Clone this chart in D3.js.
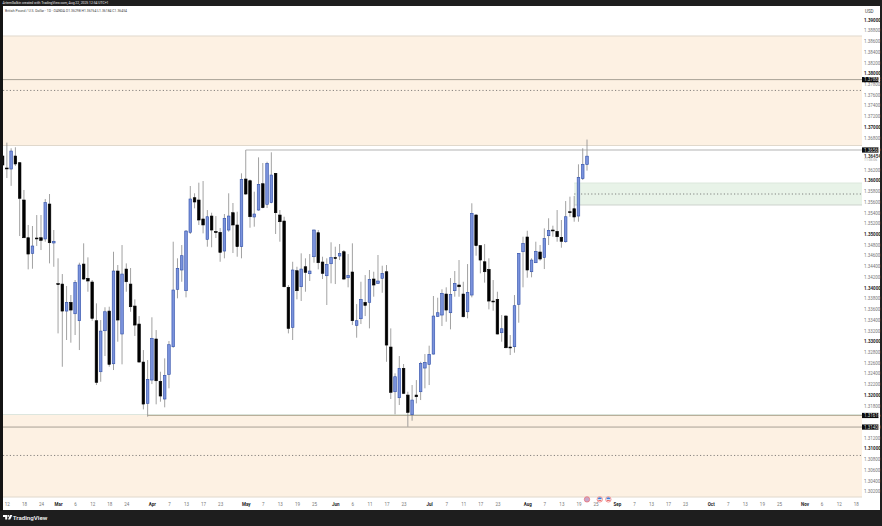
<!DOCTYPE html>
<html><head><meta charset="utf-8">
<script src="https://cdn.jsdelivr.net/npm/d3@7/dist/d3.min.js"></script>
<style>html,body{margin:0;padding:0;background:#1e1e1e;overflow:hidden}svg{display:block}text{font-family:Roboto,"Liberation Sans",sans-serif}</style>
</head><body><svg id="c" width="882" height="526"></svg>
<script>
const opens=[1.36457,1.36233,1.36214,1.36457,1.36332,1.35636,1.34932,1.34641,1.34927,1.34932,1.34909,1.35561,1.34834,1.34076,1.34068,1.33564,1.33727,1.33514,1.33384,1.34441,1.34175,1.34106,1.33384,1.32432,1.33197,1.33564,1.32581,1.34311,1.33136,1.34348,1.34068,1.33658,1.33322,1.32613,1.31842,1.32277,1.33043,1.32253,1.31923,1.32384,1.32899,1.33970,1.34330,1.33944,1.35033,1.35679,1.35636,1.35282,1.34903,1.35337,1.35048,1.35033,1.34684,1.35076,1.35399,1.35170,1.34765,1.36028,1.35996,1.35319,1.35449,1.35940,1.35556,1.35586,1.36134,1.35356,1.35244,1.34007,1.33261,1.34317,1.34018,1.34391,1.34261,1.34578,1.35026,1.34479,1.34223,1.34447,1.34563,1.34591,1.34671,1.34186,1.34293,1.33298,1.33421,1.33727,1.33727,1.34162,1.34081,1.34175,1.34298,1.32893,1.32059,1.31947,1.32496,1.31997,1.31630,1.31997,1.32059,1.32501,1.32570,1.32762,1.33465,1.33490,1.33882,1.33533,1.33944,1.34050,1.33882,1.33551,1.33863,1.35356,1.34784,1.34484,1.34342,1.33751,1.33783,1.33160,1.33471,1.32893,1.32899,1.33690,1.34671,1.34946,1.34298,1.34466,1.34666,1.34560,1.34970,1.35076,1.35052,1.34940,1.34858,1.35417,1.35473,1.35337,1.36034,1.36298];
const highs=[1.36606,1.36706,1.36601,1.36620,1.36345,1.35823,1.35170,1.35151,1.35356,1.35356,1.35655,1.35748,1.35076,1.34548,1.34255,1.34031,1.33863,1.34143,1.34466,1.34828,1.34566,1.34143,1.33708,1.33397,1.33635,1.33645,1.34671,1.34423,1.34796,1.34454,1.34367,1.33783,1.33471,1.32837,1.32650,1.33448,1.33210,1.32432,1.32682,1.33005,1.34858,1.34548,1.34796,1.35076,1.35897,1.35761,1.35959,1.35990,1.35449,1.35399,1.35337,1.35113,1.35375,1.35761,1.35580,1.35417,1.36134,1.36569,1.36018,1.35791,1.36432,1.36326,1.36350,1.36526,1.36140,1.35449,1.35324,1.34049,1.34484,1.34391,1.34641,1.34548,1.34628,1.35086,1.35076,1.34578,1.34548,1.34847,1.34765,1.34815,1.34703,1.34628,1.34828,1.33695,1.34111,1.34236,1.34330,1.34298,1.34610,1.34410,1.34423,1.33241,1.32402,1.32725,1.32576,1.32059,1.32184,1.32277,1.32618,1.32762,1.32918,1.33845,1.33813,1.33970,1.34007,1.34180,1.34311,1.34516,1.34111,1.34441,1.35575,1.35375,1.34796,1.34815,1.34548,1.34143,1.33925,1.33490,1.33490,1.33117,1.33863,1.34647,1.34951,1.35063,1.34548,1.34858,1.34796,1.35107,1.35295,1.35157,1.35449,1.35263,1.35617,1.35698,1.35711,1.36302,1.36601,1.36764];
const lows=[1.36196,1.36046,1.35900,1.36270,1.34964,1.34927,1.34342,1.34354,1.34778,1.34703,1.34858,1.34454,1.34391,1.33148,1.32525,1.33024,1.32974,1.33117,1.32837,1.34143,1.33925,1.33384,1.32184,1.32245,1.32725,1.32525,1.32464,1.32992,1.32570,1.33925,1.33551,1.33099,1.32604,1.31730,1.31594,1.32202,1.31824,1.31873,1.31768,1.32123,1.32880,1.33802,1.34111,1.33820,1.35002,1.35481,1.35170,1.35014,1.34765,1.34754,1.34927,1.34484,1.34548,1.35044,1.34647,1.34578,1.34548,1.35729,1.35119,1.35138,1.35436,1.35481,1.35487,1.35575,1.35002,1.34858,1.34007,1.33148,1.33024,1.33783,1.33752,1.33925,1.34125,1.34466,1.34342,1.34162,1.33677,1.34081,1.34068,1.34516,1.34143,1.34007,1.33303,1.33067,1.33322,1.33471,1.33241,1.33832,1.34068,1.33906,1.32618,1.31923,1.31637,1.31811,1.32016,1.31406,1.31518,1.31842,1.31904,1.32123,1.32184,1.32753,1.33458,1.33285,1.33365,1.33223,1.33832,1.33832,1.33447,1.33429,1.33820,1.34597,1.34268,1.34094,1.33596,1.33570,1.33127,1.32992,1.32869,1.32744,1.32787,1.33347,1.34007,1.34186,1.34194,1.34460,1.34503,1.34348,1.34796,1.34951,1.34858,1.34746,1.34839,1.35324,1.35231,1.35231,1.36009,1.36184];
const closes=[1.36289,1.36220,1.36550,1.36308,1.35668,1.34932,1.34628,1.34778,1.34916,1.34884,1.35586,1.34839,1.34866,1.34057,1.33564,1.33727,1.33583,1.34100,1.34423,1.34162,1.34125,1.33429,1.32234,1.33191,1.33551,1.32570,1.34311,1.33397,1.34255,1.34111,1.33645,1.33303,1.32613,1.31829,1.32290,1.33056,1.32264,1.31979,1.32365,1.32936,1.33957,1.34362,1.34597,1.35057,1.35655,1.35599,1.35263,1.35170,1.35324,1.35076,1.35029,1.34660,1.35295,1.35337,1.35170,1.34765,1.36022,1.35748,1.35324,1.35375,1.35929,1.35493,1.36320,1.36102,1.35399,1.35231,1.34018,1.33241,1.34330,1.33944,1.34348,1.34287,1.34311,1.35076,1.34466,1.34268,1.34436,1.34560,1.34544,1.34641,1.34162,1.34231,1.33384,1.33384,1.33783,1.33671,1.34156,1.34050,1.34125,1.34268,1.32930,1.32048,1.32339,1.32496,1.32029,1.31674,1.31904,1.31966,1.32588,1.32607,1.32757,1.33471,1.33533,1.33895,1.33583,1.33876,1.34081,1.34018,1.33458,1.33914,1.35388,1.34784,1.34516,1.34298,1.33751,1.33738,1.33136,1.33234,1.32880,1.32880,1.33664,1.34641,1.34828,1.34330,1.34516,1.34679,1.34535,1.34921,1.35070,1.35063,1.34951,1.34866,1.35324,1.35406,1.35319,1.36059,1.36302,1.36454];

const priceTicks=[1.39,1.388,1.386,1.384,1.382,1.38,1.378,1.376,1.374,1.372,1.37,1.368,1.362,1.36,1.358,1.356,1.354,1.352,1.35,1.348,1.346,1.344,1.342,1.34,1.338,1.336,1.334,1.332,1.33,1.328,1.326,1.324,1.322,1.32,1.318,1.312,1.31,1.308,1.306,1.304,1.302];
const dateTickBars=[1,5,9,13,17,21,25,29,35,39,43,47,51,57,61,65,69,73,78,82,86,90,94,100,104,108,112,116,123,127,131,135,139,144,148,152,156,160,166,170,174,178,182,188,192,196,200];
const dateTickLabels=["12","18","24","Mar","6","12","18","24","Apr","7","13","17","23","May","7","13","19","25","Jun","6","11","17","23","Jul","7","11","17","23","Aug","7","13","19","25","Sep","7","13","17","23","Oct","7","13","19","25","Nov","6","12","18"];
const monthLabels=["Mar","Apr","May","Jun","Jul","Aug","Sep","Oct","Nov"];

const orangeZones=[[1.38696,1.36653],[1.31634,1.30095]];
const greenZone=[1.35953,1.35543];
const greenStartBar=134;
const solidLevels=[1.37882,1.31400];
const dottedLevels=[1.37680,1.30870];
const highLevel=[57,1.36569];
const lowLevel=[34,1.31616];
const greenMid=1.35748;
const priceTags=[1.37882,1.36569,1.31616,1.31400];
const eventBars=[137,140,142];

const svg=d3.select("#c");
const L=3,R=880,T=6,B=510,PR=862;
svg.append("rect").attr("width",882).attr("height",526).attr("fill","#1e1e1e");
svg.append("rect").attr("x",0).attr("y",0).attr("width",3).attr("height",511).attr("fill","#141414");
svg.append("rect").attr("x",L).attr("y",T).attr("width",R-L).attr("height",B-T).attr("fill","#fff");

const x=d3.scaleLinear().domain([0,137]).range([2.6,587]);
const y=d3.scaleLinear().domain([1.39,1.31]).range([19.7,448.5]);

svg.append("defs").append("clipPath").attr("id","pc").append("rect").attr("x",L).attr("y",T).attr("width",PR-L).attr("height",B-T);
const g=svg.append("g").attr("clip-path","url(#pc)");

// zones
g.selectAll("rect.z").data(orangeZones).join("rect").attr("class","z")
 .attr("x",L).attr("width",PR-L).attr("y",d=>y(d[0])).attr("height",d=>y(d[1])-y(d[0])).attr("fill","#fdf1e3");
orangeZones.forEach(d=>d.forEach((p,i)=>{
  g.append("line").attr("x1",L).attr("x2",PR).attr("y1",y(p)).attr("y2",y(p)).attr("stroke",d===orangeZones[1]&&i===0?"#dde6de":"#e0d8cc").attr("stroke-width",1);
}));
const gx=x(greenStartBar);
g.append("rect").attr("x",gx).attr("width",PR-gx).attr("y",y(greenZone[0])).attr("height",y(greenZone[1])-y(greenZone[0])).attr("fill","#e8f3e8");
g.append("line").attr("x1",gx).attr("x2",PR).attr("y1",y(greenZone[0])).attr("y2",y(greenZone[0])).attr("stroke","#dce8dc");
g.append("line").attr("x1",gx).attr("x2",PR).attr("y1",y(greenZone[1])).attr("y2",y(greenZone[1])).attr("stroke","#ccd2cc");
g.append("line").attr("x1",gx).attr("x2",PR).attr("y1",y(greenMid)).attr("y2",y(greenMid)).attr("stroke","#555").attr("stroke-width",.7).attr("stroke-dasharray","1.2,2.2");

// levels
solidLevels.forEach(p=>{
  g.append("line").attr("x1",L).attr("x2",PR).attr("y1",y(p)).attr("y2",y(p)).attr("stroke","#a8a196").attr("stroke-width",1);
});
dottedLevels.forEach(p=>{
  g.append("line").attr("x1",L).attr("x2",PR).attr("y1",y(p)).attr("y2",y(p)).attr("stroke","#555").attr("stroke-width",.7).attr("stroke-dasharray","1.2,2.2");
});
g.append("line").attr("x1",x(highLevel[0])).attr("x2",PR).attr("y1",y(highLevel[1])).attr("y2",y(highLevel[1])).attr("stroke","#b4b4b4").attr("stroke-width",1.1);
g.append("line").attr("x1",x(lowLevel[0])).attr("x2",PR).attr("y1",y(lowLevel[1])).attr("y2",y(lowLevel[1])).attr("stroke","#b8ad98").attr("stroke-width",1);

// candles
const idx=d3.range(opens.length);
g.selectAll("line.w").data(idx).join("line").attr("class","w")
 .attr("x1",i=>x(i)).attr("x2",i=>x(i)).attr("y1",i=>y(highs[i])).attr("y2",i=>y(lows[i]))
 .attr("stroke","#8a8a8a").attr("stroke-width",.8);
g.selectAll("rect.b").data(idx).join("rect").attr("class","b")
 .attr("x",i=>x(i)-1.3).attr("width",2.6)
 .attr("y",i=>y(Math.max(opens[i],closes[i])))
 .attr("height",i=>Math.max(.9,Math.abs(y(opens[i])-y(closes[i]))))
 .attr("fill",i=>closes[i]>opens[i]?"#7a92dc":"#000")
 .attr("stroke",i=>closes[i]>opens[i]?"#2f4fa8":"#000")
 .attr("stroke-width",.6);

// price axis
const ya=d3.axisRight(y).tickValues(priceTicks).tickSize(0).tickPadding(0).tickFormat(d=>d.toFixed(5));
const yg=svg.append("g").attr("transform",`translate(${PR+2},0)`).call(ya);
yg.select(".domain").remove();
yg.selectAll("text").attr("font-size",4.5).attr("fill",d=>Math.abs(d*100-Math.round(d*100))<1e-6?"#222":"#777")
 .attr("font-weight",d=>Math.abs(d*100-Math.round(d*100))<1e-6?700:400);
svg.append("text").attr("x",PR+3).attr("y",13).attr("font-size",4.5).attr("fill","#444").text("USD");
priceTags.forEach(p=>{
  svg.append("rect").attr("x",PR).attr("y",y(p)-2.6).attr("width",16.5).attr("height",5.2).attr("fill","#0c0c0c");
  svg.append("text").attr("x",PR+2).attr("y",y(p)+1.6).attr("font-size",4.5).attr("fill","#ddd").text(p.toFixed(5));
});
svg.append("text").attr("x",PR+2).attr("y",y(closes[137])+1.6).attr("font-size",4.5).attr("font-weight",700).attr("fill","#333").text(closes[137].toFixed(5));
svg.append("text").attr("x",PR+2).attr("y",y(closes[137])+4.6).attr("font-size",3.4).attr("fill","#999").text("11:05:06");

// time axis
const xa=d3.axisBottom(x).tickValues(dateTickBars).tickSize(0).tickPadding(0).tickFormat((d,i)=>dateTickLabels[i]);
const xg=svg.append("g").attr("transform","translate(0,503)").call(xa);
xg.select(".domain").remove();
xg.selectAll("text").attr("font-size",4.5)
 .attr("fill",(d,i)=>monthLabels.includes(dateTickLabels[i])?"#222":"#777")
 .attr("font-weight",(d,i)=>monthLabels.includes(dateTickLabels[i])?700:400);

// event markers
eventBars.forEach((b,i)=>{
  const cx=x(b),cy=499.4;
  svg.append("circle").attr("cx",cx).attr("cy",cy).attr("r",2.7).attr("fill",i?"#fff":"#c9a6c9").attr("stroke","#ef6a6a").attr("stroke-width",.7);
  if(i) svg.append("path").attr("d",`M${cx-2},${cy-.2}a2,2 0 0 1 4,0z`).attr("fill","#3f7fd6");
  if(i) svg.append("rect").attr("x",cx-1.5).attr("y",cy+.7).attr("width",3).attr("height",.7).attr("fill","#d33");
});

// header and legend
svg.append("text").attr("x",2.5).attr("y",4.4).attr("font-size",4.4).attr("textLength",106).attr("lengthAdjust","spacingAndGlyphs").attr("fill","#e6e6e6").text("ArtemGalkin created with TradingView.com, Aug 22, 2025 12:54 UTC+1");
svg.append("text").attr("x",5).attr("y",12.4).attr("font-size",4.2).attr("textLength",122).attr("lengthAdjust","spacingAndGlyphs").attr("fill","#444").text("British Pound / U.S. Dollar · 1D · OANDA  O1.36298 H1.36764 L1.36184 C1.36454");

// logo
const lg=svg.append("g").attr("transform","translate(3,515)").attr("fill","#fff");
lg.append("path").attr("d","M0,0h4.2v4.6h-2v-2.6h-2.2z");
lg.append("circle").attr("cx",5.3).attr("cy",.9).attr("r",.9);
lg.append("path").attr("d","M7,0h2.4l-2.2,4.6h-2.2z");
svg.append("text").attr("x",12.7).attr("y",519.7).attr("font-size",6.2).attr("font-weight",600).attr("fill","#f2f2f2").text("TradingView");
</script></body></html>
